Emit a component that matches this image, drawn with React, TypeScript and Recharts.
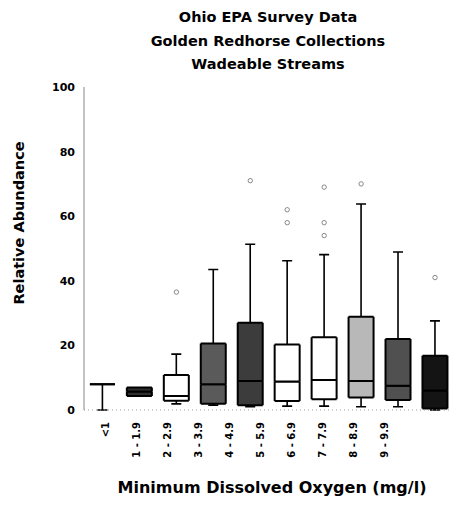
import { Bar, ComposedChart, Scatter, XAxis, YAxis } from "recharts";

// Minimum dissolved oxygen classes (mg/l)
const categories = ["<1", "1 - 1.9", "2 - 2.9", "3 - 3.9", "4 - 4.9", "5 - 5.9", "6 - 6.9", "7 - 7.9", "8 - 8.9", "9 - 9.9"];
const mins = [0, 4.3, 1.9, 1.5, 1.0, 1.2, 1.2, 1.0, 1.0, 0];
const q1s = [8, 4.3, 2.9, 1.9, 1.5, 2.8, 3.3, 3.9, 3.1, 0.5];
const medians = [8, 5.7, 4.3, 8.0, 9.0, 8.8, 9.3, 9.0, 7.5, 6.0];
const q3s = [8, 7.0, 10.8, 20.6, 27.0, 20.3, 22.5, 28.9, 22.0, 16.8];
const maxs = [8, 7.0, 17.3, 43.5, 51.3, 46.2, 48.1, 63.8, 48.9, 27.6];

const outlierCats = ["2 - 2.9", "4 - 4.9", "5 - 5.9", "5 - 5.9", "6 - 6.9", "6 - 6.9", "6 - 6.9", "7 - 7.9", "9 - 9.9"];
const outlierValues = [36.5, 71, 58, 62, 54, 58, 69, 70, 41];

const yTicks = [0, 20, 40, 60, 80, 100];

// box shading per class (stippled fills in the original)
const FILLS = ["#ffffff", "#2e2e2e", "#ffffff", "#5a5a5a", "#3c3c3c", "#ffffff", "#ffffff", "#b8b8b8", "#505050", "#141414"];

const data = categories.map((cat, i) => ({
  cat,
  base: mins[i],
  lowWhisker: q1s[i] - mins[i],
  lowBox: medians[i] - q1s[i],
  highBox: q3s[i] - medians[i],
  highWhisker: maxs[i] - q3s[i],
}));

const outliers = outlierCats.map((cat, i) => ({ cat, value: outlierValues[i] }));

const FONT = "'DejaVu Sans', sans-serif";

const BoxPart = (p: any) => {
  const { x, y, width, height, index } = p;
  return (
    <g>
      <rect x={x} y={y} width={width} height={Math.max(height, 0)} fill={FILLS[index]} />
      <path
        d={`M${x},${y}h${width}M${x},${y + height}h${width}M${x},${y}v${height}M${x + width},${y}v${height}`}
        stroke="#000"
        strokeWidth={2}
        fill="none"
      />
    </g>
  );
};

const LowWhisker = (p: any) => {
  const { x, y, width, height } = p;
  if (!height) return <g />;
  const cx = x + width / 2;
  return (
    <path d={`M${cx},${y}v${height}M${cx - 5},${y + height}h10`} stroke="#000" strokeWidth={1.6} fill="none" />
  );
};

const HighWhisker = (p: any) => {
  const { x, y, width, height } = p;
  if (!height) return <g />;
  const cx = x + width / 2;
  return <path d={`M${cx},${y + height}v${-height}M${cx - 5},${y}h10`} stroke="#000" strokeWidth={1.6} fill="none" />;
};

const Outlier = (p: any) => <circle cx={p.cx} cy={p.cy} r={2.2} fill="none" stroke="#888" strokeWidth={1} />;

const RotTick = (p: any) => (
  <text
    x={p.x}
    y={p.y}
    transform={`rotate(-90 ${p.x} ${p.y})`}
    textAnchor="end"
    dy="0.35em"
    fontFamily={FONT}
    fontWeight="bold"
    fontSize={10}
    fill="#000"
  >
    {p.payload.value}
  </text>
);

export default function App() {
  return (
    <div style={{ position: "absolute", left: 0, top: 0, width: 451, height: 508, overflow: "hidden", background: "#fff" }}>
      <div style={{ position: "absolute", left: 68, width: 400, top: 6, textAlign: "center", fontFamily: FONT, fontWeight: "bold", fontSize: 14.5, lineHeight: "23.5px", color: "#000" }}>
        <div>Ohio EPA Survey Data</div>
        <div>Golden Redhorse Collections</div>
        <div>Wadeable Streams</div>
      </div>

      <ComposedChart
        width={460}
        height={508}
        data={data}
        margin={{ top: 87, right: 6.5, bottom: 0, left: 0 }}
        barCategoryGap="16%"
      >
        <XAxis xAxisId="box" dataKey="cat" type="category" allowDuplicatedCategory={false} height={0} hide />
        <XAxis
          xAxisId="lab"
          dataKey="cat"
          type="category"
          height={98}
          padding={{ left: 6.5, right: 54 }}
          tickLine={false}
          tickSize={0}
          tickMargin={12}
          interval={0}
          axisLine={{ stroke: "#999", strokeDasharray: "1 3" }}
          tick={<RotTick />}
        />
        <YAxis
          domain={[0, 100]}
          ticks={yTicks}
          width={84}
          tickSize={0}
          tickMargin={9}
          tickLine={false}
          axisLine={{ stroke: "#888" }}
          tick={{ fontFamily: FONT, fontWeight: "bold", fontSize: 11, fill: "#000" }}
        />
        <Bar xAxisId="lab" dataKey="base" fill="none" isAnimationActive={false} />
        <Bar xAxisId="box" dataKey="base" stackId="b" fill="none" isAnimationActive={false} />
        <Bar xAxisId="box" dataKey="lowWhisker" stackId="b" shape={<LowWhisker />} isAnimationActive={false} />
        <Bar xAxisId="box" dataKey="lowBox" stackId="b" shape={<BoxPart />} isAnimationActive={false} />
        <Bar xAxisId="box" dataKey="highBox" stackId="b" shape={<BoxPart />} isAnimationActive={false} />
        <Bar xAxisId="box" dataKey="highWhisker" stackId="b" shape={<HighWhisker />} isAnimationActive={false} />
        <Scatter xAxisId="box" data={outliers} dataKey="value" shape={<Outlier />} isAnimationActive={false} />
      </ComposedChart>

      <div style={{ position: "absolute", left: 19, top: 223, transform: "translate(-50%, -50%) rotate(-90deg)", whiteSpace: "nowrap", fontFamily: FONT, fontWeight: "bold", fontSize: 14.5, color: "#000" }}>
        Relative Abundance
      </div>
      <div style={{ position: "absolute", left: 272, top: 487, transform: "translate(-50%, -50%)", whiteSpace: "nowrap", fontFamily: FONT, fontWeight: "bold", fontSize: 16, color: "#000" }}>
        Minimum Dissolved Oxygen (mg/l)
      </div>
    </div>
  );
}
